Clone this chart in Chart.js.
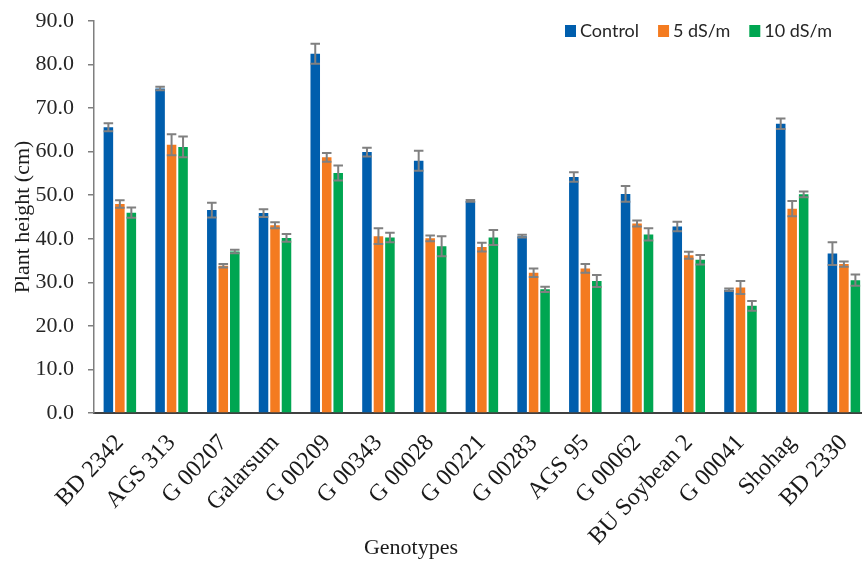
<!DOCTYPE html>
<html>
<head>
<meta charset="utf-8">
<script src="https://cdn.jsdelivr.net/npm/chart.js@4/dist/chart.umd.min.js"></script>
<style>
  html, body { margin: 0; padding: 0; background: #ffffff; overflow: hidden; }
  #wrap { width: 873px; height: 561px; }
</style>
</head>
<body>
<div id="wrap"><canvas id="chart" width="873" height="561"></canvas></div>
<script>
// Plant height (cm) of soybean genotypes under control and two salinity levels
const genotypes = ['BD 2342', 'AGS 313', 'G 00207', 'Galarsum', 'G 00209', 'G 00343', 'G 00028',
  'G 00221', 'G 00283', 'AGS 95', 'G 00062', 'BU Soybean 2', 'G 00041', 'Shohag', 'BD 2330'];

const controlHeight = [65.6, 74.5, 46.6, 45.9, 82.5, 59.9, 57.9, 48.7, 40.6, 54.2, 50.3, 42.8, 28.3, 66.4, 36.6];
const salt5Height   = [48.0, 61.6, 33.8, 43.1, 58.7, 40.6, 40.1, 38.1, 32.2, 33.2, 43.5, 36.2, 28.8, 46.9, 34.2];
const salt10Height  = [46.0, 61.1, 37.1, 40.2, 55.1, 40.3, 38.3, 40.3, 28.4, 30.3, 41.0, 35.2, 24.6, 50.2, 30.5];

// standard errors
const controlErr = [0.9, 0.4, 1.7, 0.9, 2.3, 1.0, 2.3, 0.2, 0.3, 1.1, 1.8, 1.1, 0.3, 1.2, 2.6];
const salt5Err   = [0.85, 2.4, 0.4, 0.7, 1.0, 1.8, 0.65, 1.0, 1.0, 1.0, 0.7, 0.8, 1.5, 1.75, 0.6];
const salt10Err  = [1.2, 2.4, 0.4, 0.9, 1.7, 1.1, 2.3, 1.7, 0.6, 1.4, 1.4, 1.1, 1.1, 0.65, 1.3];

const yTicks = [0, 10, 20, 30, 40, 50, 60, 70, 80, 90];

const seriesNames = ['Control', '5 dS/m', '10 dS/m'];
const seriesColors = ['#005EAD', '#F47B20', '#00A651'];
const xTitle = 'Genotypes';

const SERIF = '"Liberation Serif", "DejaVu Serif", serif';

// error bars drawn on top of each bar, through the y scale
const errorBars = {
  id: 'errorBars',
  afterDatasetsDraw(chart) {
    const ctx = chart.ctx;
    const yScale = chart.scales.y;
    ctx.save();
    ctx.strokeStyle = '#808080';
    ctx.lineWidth = 2;
    chart.data.datasets.forEach((ds, di) => {
      const meta = chart.getDatasetMeta(di);
      meta.data.forEach((bar, i) => {
        const v = ds.data[i], e = ds.errors[i];
        const top = yScale.getPixelForValue(v + e);
        const bot = yScale.getPixelForValue(v - e);
        const half = bar.width / 2;
        ctx.beginPath();
        ctx.moveTo(bar.x, top); ctx.lineTo(bar.x, bot);
        ctx.moveTo(bar.x - half, top); ctx.lineTo(bar.x + half, top);
        ctx.moveTo(bar.x - half, bot); ctx.lineTo(bar.x + half, bot);
        ctx.stroke();
      });
    });
    ctx.restore();
  }
};

// legend row inside the plot (top right) and the x-axis title
const annotations = {
  id: 'annotations',
  afterDraw(chart) {
    const ctx = chart.ctx;
    ctx.save();
    ctx.font = '18px Lato, "Open Sans", sans-serif';
    ctx.textBaseline = 'middle';
    ctx.textAlign = 'left';
    let x = 565;
    const cy = 31;
    chart.data.datasets.forEach((ds) => {
      ctx.fillStyle = ds.backgroundColor;
      ctx.fillRect(x, cy - 6, 11, 12);
      ctx.fillStyle = '#262626';
      ctx.fillText(ds.label, x + 15, cy);
      x += 15 + ctx.measureText(ds.label).width + 19;
    });

    ctx.font = '22px ' + SERIF;
    ctx.fillStyle = '#1a1a1a';
    ctx.textAlign = 'center';
    ctx.fillText(xTitle, 411, 548);
    ctx.restore();
  }
};

const datasets = [controlHeight, salt5Height, salt10Height].map((vals, k) => ({
  label: seriesNames[k],
  data: vals,
  errors: [controlErr, salt5Err, salt10Err][k],
  backgroundColor: seriesColors[k],
  categoryPercentage: 0.666,
  barPercentage: 0.83
}));

new Chart(document.getElementById('chart'), {
  type: 'bar',
  data: { labels: genotypes, datasets },
  options: {
    responsive: false,
    animation: false,
    layout: { padding: { top: 21, right: 1, bottom: 0, left: 0 } },
    plugins: { legend: { display: false }, tooltip: { enabled: false } },
    scales: {
      x: {
        grid: { display: false },
        border: { display: true, color: '#404040', width: 2 },
        ticks: {
          color: '#1a1a1a',
          font: { family: SERIF, size: 24 },
          minRotation: 47, maxRotation: 47,
          autoSkip: false,
          padding: 8
        },
        afterFit(scale) { scale.height = 148; }
      },
      y: {
        min: 0, max: 90,
        afterBuildTicks(scale) { scale.ticks = yTicks.map(v => ({ value: v })); },
        grid: { drawOnChartArea: false, drawTicks: true, tickLength: 6, color: '#7f7f7f', lineWidth: 1.5 },
        border: { display: true, color: '#7f7f7f', width: 1.5 },
        ticks: {
          color: '#262626',
          font: { family: SERIF, size: 22 },
          padding: 14,
          callback: (v) => Number(v).toFixed(1)
        },
        title: {
          display: true, text: 'Plant height (cm)', color: '#1a1a1a',
          font: { family: SERIF, size: 22 },
          padding: { top: 10, bottom: 4 }
        },
        afterFit(scale) {
          scale.width = 94;
          scale.paddingTop = 12;
          scale.paddingBottom = 12;
        }
      }
    }
  },
  plugins: [errorBars, annotations]
});
</script>
</body>
</html>
